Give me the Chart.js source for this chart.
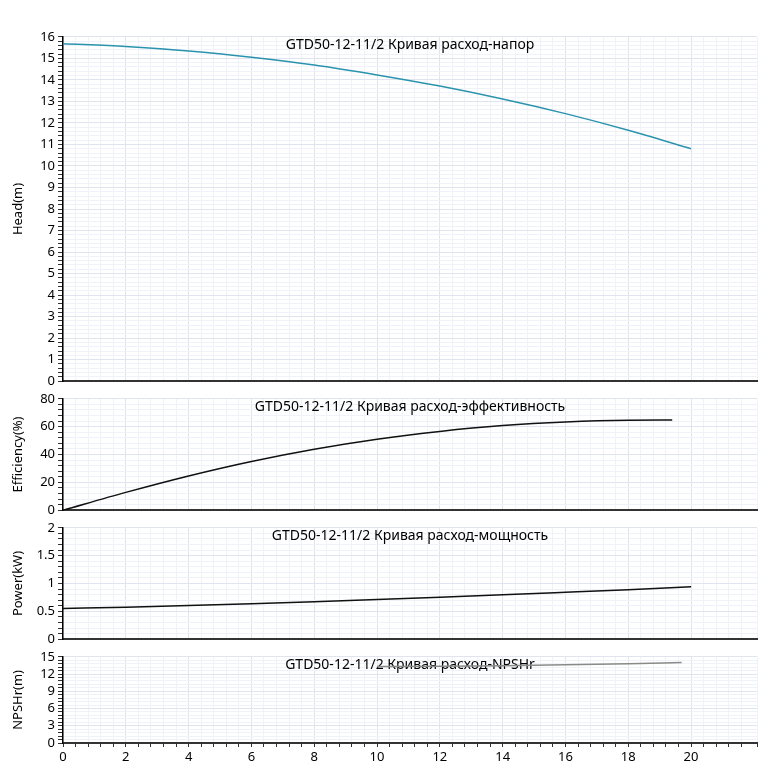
<!DOCTYPE html>
<html>
<head>
<meta charset="utf-8">
<script src="https://cdn.jsdelivr.net/npm/chart.js@4.4.0/dist/chart.umd.min.js"></script>
<style>
  body { margin: 0; background: #fff; }
  .panel { position: absolute; left: 0; width: 772px; }
</style>
</head>
<body>
<div class="panel" style="top:26px;height:366px"><canvas id="headChart"></canvas></div>
<div class="panel" style="top:388px;height:133px"><canvas id="effChart"></canvas></div>
<div class="panel" style="top:517px;height:133px"><canvas id="powerChart"></canvas></div>
<div class="panel" style="top:646px;height:125px"><canvas id="npshChart"></canvas></div>
<script>
// values
const model = 'GTD50-12-11/2';
const flow = [0, 2, 4, 6, 8, 10, 12, 14, 16, 18, 20];
const head = [15.68, 15.55, 15.34, 15.05, 14.69, 14.23, 13.71, 13.11, 12.43, 11.66, 10.80];
const effFlow = [0, 2, 4, 6, 8, 10, 12, 14, 16, 18, 19.4];
const efficiency = [0, 12.8, 24.6, 35.0, 43.8, 51.0, 56.6, 60.8, 63.4, 64.6, 64.7];
const power = [0.55, 0.575, 0.605, 0.638, 0.674, 0.713, 0.754, 0.797, 0.843, 0.89, 0.94];
const npshFlow = [10, 12, 14, 16, 18, 19.7];
const npsh = [13.3, 13.35, 13.45, 13.6, 13.8, 14.0];

const font = { family: "'Noto Sans', sans-serif", size: 13 };
const majorGrid = '#dfe4ef';
const minorGrid = '#eff2f8';

function isMajor(v, step) {
    return Math.abs(v / step - Math.round(v / step)) < 1e-6;
}

function points(xs, ys) {
    return xs.map((x, i) => ({ x: x, y: ys[i] }));
}

// draws the panel caption inside the plot, under the curve
const captionPlugin = {
    id: 'caption',
    beforeDatasetsDraw(chart, args, opts) {
        const a = chart.chartArea;
        const ctx = chart.ctx;
        ctx.save();
        ctx.font = "14px 'Noto Sans', sans-serif";
        ctx.fillStyle = '#000';
        ctx.textAlign = 'center';
        ctx.textBaseline = 'middle';
        ctx.fillText(opts.text, (a.left + a.right) / 2, a.top + 8);
        ctx.restore();
    }
};

function xAxis(showLabels) {
    return {
        type: 'linear',
        min: 0,
        max: 22.1,
        afterFit: s => { s.height = showLabels ? 26 : 0; },
        ticks: {
            display: showLabels,
            stepSize: 0.4,
            autoSkip: false,
            maxRotation: 0,
            color: '#000',
            font: font,
            padding: 2,
            callback: v => (isMajor(v, 2) && v < 20.5) ? String(Math.round(v)) : ''
        },
        grid: {
            color: c => isMajor(c.tick.value, 2) ? majorGrid : minorGrid,
            drawTicks: showLabels,
            tickLength: 4,
            tickColor: '#333'
        },
        border: { color: '#333', width: 2 }
    };
}

function yAxis(label, max, major) {
    return {
        min: 0,
        max: max,
        afterFit: s => { s.width = 63; },
        title: { display: true, text: label, color: '#000', font: font, padding: { top: 10, bottom: 0 } },
        ticks: {
            stepSize: major / 5,
            autoSkip: false,
            color: '#000',
            font: font,
            padding: 3,
            callback: v => isMajor(v, major) ? String(Math.round(v * 10) / 10) : ''
        },
        grid: {
            color: c => isMajor(c.tick.value, major) ? majorGrid : minorGrid,
            tickLength: 5,
            tickColor: '#333'
        },
        border: { color: '#000', width: 1.5 }
    };
}

function makeChart(id, caption, data, colour, label, max, major, showX) {
    return new Chart(document.getElementById(id), {
        type: 'line',
        data: {
            datasets: [{
                data: data,
                borderColor: colour,
                borderWidth: 1.5,
                pointRadius: 0,
                fill: false,
                cubicInterpolationMode: 'monotone'
            }]
        },
        options: {
            responsive: true,
            maintainAspectRatio: false,
            animation: false,
            layout: { padding: { top: 10, bottom: 2, left: 0, right: 15 } },
            scales: { x: xAxis(showX), y: yAxis(label, max, major) },
            plugins: {
                legend: { display: false },
                tooltip: { enabled: false },
                caption: { text: caption }
            }
        },
        plugins: [captionPlugin]
    });
}

makeChart('headChart', model + ' Кривая расход-напор', points(flow, head), '#2a93ad', 'Head(m)', 16, 1, false);
makeChart('effChart', model + ' Кривая расход-эффективность', points(effFlow, efficiency), '#111', 'Efficiency(%)', 80, 20, false);
makeChart('powerChart', model + ' Кривая расход-мощность', points(flow, power), '#111', 'Power(kW)', 2, 0.5, false);
makeChart('npshChart', model + ' Кривая расход-NPSHr', points(npshFlow, npsh), '#8a8a8a', 'NPSHr(m)', 15, 3, true);
</script>
</body>
</html>
